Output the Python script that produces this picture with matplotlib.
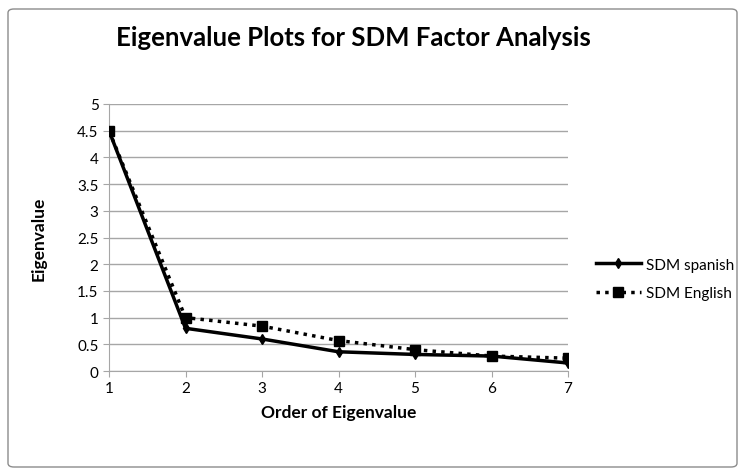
import matplotlib
matplotlib.use("Agg")
import matplotlib.pyplot as plt
from matplotlib.patches import FancyBboxPatch

orders = [1, 2, 3, 4, 5, 6, 7]
spanish = [4.5, 0.8, 0.6, 0.36, 0.31, 0.28, 0.15]
english = [4.5, 1.0, 0.84, 0.57, 0.4, 0.28, 0.24]
yticks = [0, 0.5, 1, 1.5, 2, 2.5, 3, 3.5, 4, 4.5, 5]
ytick_labels = ["0", "0.5", "1", "1.5", "2", "2.5", "3", "3.5", "4", "4.5", "5"]

plt.rcParams['font.family'] = ['Lato', 'DejaVu Sans']

fig = plt.figure(figsize=(7.45, 4.77), dpi=100)
fig.patches.append(FancyBboxPatch((8/745, 9/477), 729/745, 458/477,
                                  boxstyle="round,pad=0,rounding_size=0.008",
                                  transform=fig.transFigure, fill=False,
                                  edgecolor="#8c8c8c", linewidth=1))
ax = fig.add_axes([109/745, 1-372/477, (568-109)/745, (372-105)/477])

ax.plot(orders, spanish, color="black", linewidth=2.5, marker="d",
        markersize=5, label="SDM spanish", zorder=3)
ax.plot(orders, english, color="black", linewidth=2.5, linestyle=(0, (1, 1.5)),
        marker="s", markersize=7, label="SDM English", zorder=4)

ax.set_xlim(1, 7)
ax.set_ylim(0, 5)
ax.set_yticks(yticks)
ax.set_yticklabels(ytick_labels)
ax.set_xticks(orders)
ax.yaxis.grid(True, color="#a6a6a6", linewidth=1)
ax.set_axisbelow(True)
for s in ["top", "right"]:
    ax.spines[s].set_visible(False)
for s in ["left", "bottom"]:
    ax.spines[s].set_color("#a6a6a6")
ax.tick_params(axis="both", colors="#a6a6a6", labelcolor="black",
               labelsize=11, length=4)
ax.set_xlabel("Order of Eigenvalue", fontsize=12.5, fontweight="bold", labelpad=6)
ax.set_ylabel("Eigenvalue", fontsize=12.5, fontweight="bold", labelpad=22)

fig.text(0.475, 1-38/477, "Eigenvalue Plots for SDM Factor Analysis",
         fontsize=18.5, fontweight="bold", ha="center", va="center")

ax.legend(loc="center left", bbox_to_anchor=(1.03, 0.345), frameon=False,
          fontsize=11, handlelength=3, handletextpad=0.3, labelspacing=0.95)

fig.savefig("out.png", dpi=100)
